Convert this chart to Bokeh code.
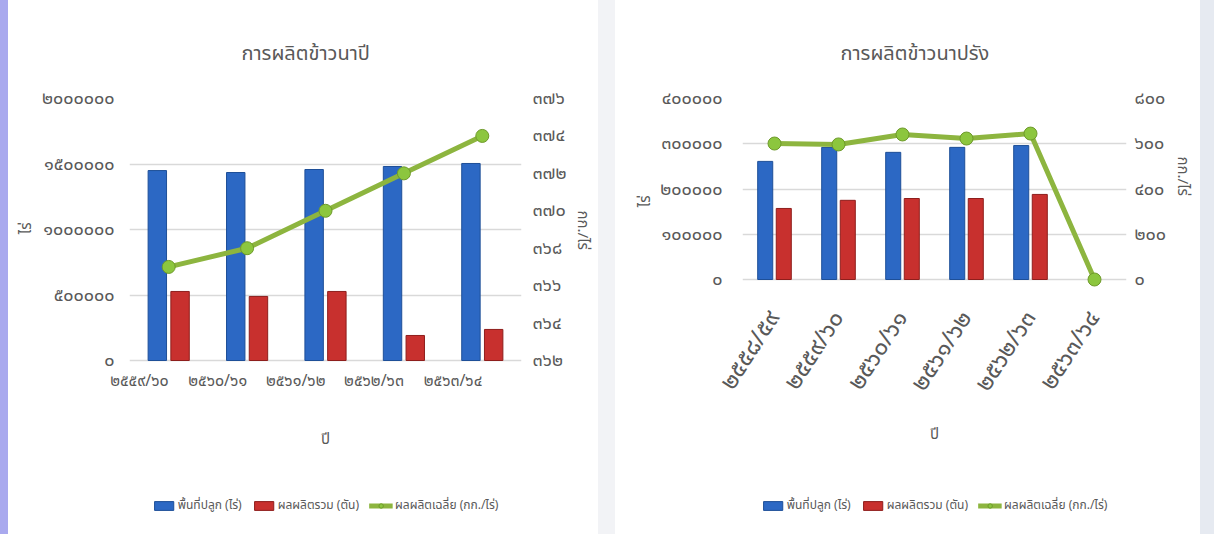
import math
from bokeh.plotting import figure
from bokeh.models import (FactorRange, Range1d, LinearAxis, FixedTicker, ColumnDataSource,
                          Legend, LegendItem, Spacer, Title)
from bokeh.transform import dodge
from bokeh.layouts import row
from bokeh.embed import file_html
from bokeh.resources import INLINE

# ---------------- data: chart 1 (นาปี) ----------------
c1_title = "การผลิตข้าวนาปี"
c1_years = ["๒๕๕๙/๖๐", "๒๕๖๐/๖๑", "๒๕๖๑/๖๒", "๒๕๖๒/๖๓", "๒๕๖๓/๖๔"]
c1_area = [1450000, 1435000, 1458000, 1481000, 1504000]
c1_prod = [527000, 489000, 527000, 191000, 237000]
c1_yield = [367, 368, 370, 372, 374]
c1_left_ticks = [0, 500000, 1000000, 1500000, 2000000]
c1_left_labels = ["๐", "๕๐๐๐๐๐", "๑๐๐๐๐๐๐", "๑๕๐๐๐๐๐", "๒๐๐๐๐๐๐"]
c1_right_ticks = [362, 364, 366, 368, 370, 372, 374, 376]
c1_right_labels = ["๓๖๒", "๓๖๔", "๓๖๖", "๓๖๘", "๓๗๐", "๓๗๒", "๓๗๔", "๓๗๖"]

# ---------------- data: chart 2 (นาปรัง) ----------------
c2_title = "การผลิตข้าวนาปรัง"
c2_years = ["๒๕๕๘/๕๙", "๒๕๕๙/๖๐", "๒๕๖๐/๖๑", "๒๕๖๑/๖๒", "๒๕๖๒/๖๓", "๒๕๖๓/๖๔"]
c2_area = [261000, 292000, 281000, 292000, 296000, float("nan")]
c2_prod = [157000, 175000, 179000, 179000, 188000, float("nan")]
c2_yield = [601, 597, 641, 623, 645, 0]
c2_left_ticks = [0, 100000, 200000, 300000, 400000]
c2_left_labels = ["๐", "๑๐๐๐๐๐", "๒๐๐๐๐๐", "๓๐๐๐๐๐", "๔๐๐๐๐๐"]
c2_right_ticks = [0, 200, 400, 600, 800]
c2_right_labels = ["๐", "๒๐๐", "๔๐๐", "๖๐๐", "๘๐๐"]

series_labels = ["พื้นที่ปลูก (ไร่)", "ผลผลิตรวม (ตัน)", "ผลผลิตเฉลี่ย (กก./ไร่)"]
x_title = "ปี"
left_title = "ไร่"
right_title = "กก./ไร่"

FONT = "Noto Sans Thai, Noto Sans, DejaVu Sans"
GREY = "#595959"
BLUE = "#2C68C4"
RED = "#C8302E"
GREEN = "#8DB53F"
H = 534
FRAME_TOP, FRAME_BOTTOM = 98, 524   # frames reach down to hold the legend


def make_chart(title, years, area, prod, yld, lticks, llabels, rticks, rlabels,
               width, bl, br, zero_px, title_offset, xrot, xfont, xstand, xlabstand,
               lstand, rstand, ltitle_off, rtitle_off):
    # zero_px: screen row of the value 0; the frame continues below it (legend area)
    frac = (FRAME_BOTTOM - zero_px) / (zero_px - FRAME_TOP)
    src = ColumnDataSource(dict(cat=years, area=area, prod=prod, yld=yld))
    p = figure(x_range=FactorRange(factors=years),
               y_range=Range1d(lticks[0] - frac * lticks[-1], lticks[-1]),
               width=width, height=H, output_backend="svg", toolbar_location=None,
               min_border_left=bl, min_border_right=br, min_border_top=FRAME_TOP,
               min_border_bottom=H - FRAME_BOTTOM,
               border_fill_color="white", background_fill_color="white",
               outline_line_color=None)
    p.extra_y_ranges = {"r": Range1d(rticks[0] - frac * (rticks[-1] - rticks[0]), rticks[-1])}

    rb = p.vbar(x=dodge("cat", -0.145, range=p.x_range), top="area", width=0.235, source=src,
                fill_color=BLUE, line_color="#1E4F98", line_width=1)
    rr = p.vbar(x=dodge("cat", 0.145, range=p.x_range), top="prod", width=0.235, source=src,
                fill_color=RED, line_color="#8E1E1C", line_width=1)
    rl = p.line(x="cat", y="yld", source=src, y_range_name="r", line_color=GREEN, line_width=5)
    rc = p.scatter(x="cat", y="yld", source=src, y_range_name="r", size=13,
                   fill_color="#8CC63E", line_color="#6E9A2A", line_width=1)

    # axes
    p.yaxis.ticker = FixedTicker(ticks=lticks)
    p.yaxis.major_label_overrides = dict(zip(lticks, llabels))
    p.yaxis.bounds = (lticks[0], lticks[-1])
    ax_r = LinearAxis(y_range_name="r", ticker=FixedTicker(ticks=rticks),
                      major_label_overrides=dict(zip(rticks, rlabels)),
                      bounds=(rticks[0], rticks[-1]))
    p.add_layout(ax_r, "right")
    p.xaxis.axis_label = x_title
    p.xaxis.major_label_orientation = xrot
    for ax in p.axis:
        ax.axis_line_color = None
        ax.major_tick_line_color = None
        ax.minor_tick_line_color = None
        ax.major_tick_out = 0
        ax.major_tick_in = 0
        ax.minor_tick_out = 0
        ax.major_label_text_font = FONT
        ax.major_label_text_color = GREY
        ax.major_label_text_font_size = "18px"
        ax.axis_label_text_font = FONT
        ax.axis_label_text_color = GREY
        ax.axis_label_text_font_size = "15px"
        ax.axis_label_text_font_style = "normal"
    p.xaxis.major_label_text_font_size = xfont
    p.xaxis.major_label_standoff = xstand
    p.xaxis.axis_label_standoff = xlabstand
    p.yaxis.major_label_standoff = lstand
    ax_r.major_label_standoff = rstand

    # vertical axis titles, placed along the value part of each axis
    p.add_layout(Title(text=left_title, align="right", offset=ltitle_off, standoff=2,
                       text_font=FONT, text_font_size="15px", text_font_style="normal",
                       text_color=GREY), "left")
    p.add_layout(Title(text=right_title, align="left", offset=rtitle_off, standoff=2,
                       text_font=FONT, text_font_size="15px", text_font_style="normal",
                       text_color=GREY), "right")

    p.xgrid.grid_line_color = None
    p.ygrid.grid_line_color = "#D9D9D9"
    p.ygrid.grid_line_width = 1.5

    p.title.text = title
    p.title.align = "left"
    p.title.offset = title_offset
    p.title.text_font = FONT
    p.title.text_font_size = "20px"
    p.title.text_font_style = "normal"
    p.title.text_color = GREY
    p.title.standoff = 59

    legend = Legend(items=[LegendItem(label=series_labels[0], renderers=[rb]),
                           LegendItem(label=series_labels[1], renderers=[rr]),
                           LegendItem(label=series_labels[2], renderers=[rl, rc])],
                    orientation="horizontal", location="bottom_center", glyph_width=24,
                    glyph_height=11, label_standoff=2, spacing=10, padding=0, margin=10,
                    border_line_color=None, background_fill_alpha=0,
                    label_text_font=FONT, label_text_font_size="12px", label_text_color=GREY)
    p.add_layout(legend, "center")
    return p


p1 = make_chart(c1_title, c1_years, c1_area, c1_prod, c1_yield, c1_left_ticks, c1_left_labels,
                c1_right_ticks, c1_right_labels, width=590, bl=121, br=77, zero_px=360,
                title_offset=112, xrot=0, xfont="16px", xstand=-144, xlabstand=20,
                lstand=15, rstand=11, ltitle_off=124, rtitle_off=112)
p2 = make_chart(c2_title, c2_years, c2_area, c2_prod, c2_yield, c2_left_ticks, c2_left_labels,
                c2_right_ticks, c2_right_labels, width=585, bl=127, br=74, zero_px=279,
                title_offset=98, xrot=1.0, xfont="24px", xstand=-211, xlabstand=12,
                lstand=20, rstand=8, ltitle_off=97, rtitle_off=58)

left_band = Spacer(width=8, height=H, styles={"background-color": "#A9A9EE"})
gap = Spacer(width=17, height=H, styles={"background-color": "#F2F3F6"})
right_band = Spacer(width=14, height=H, styles={"background-color": "#E6EAF1"})
layout = row(left_band, p1, gap, p2, right_band)

open("out.html", "w").write(file_html(layout, INLINE))
